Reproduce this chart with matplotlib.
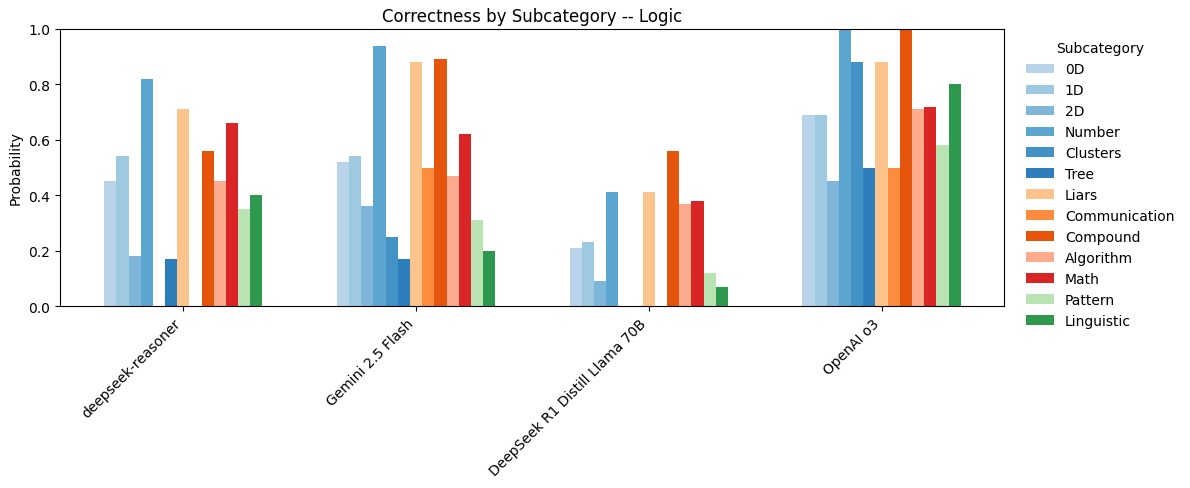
import numpy as np
import matplotlib
matplotlib.use("Agg")
import matplotlib.pyplot as plt

# Models (x groups)
models = ["deepseek-reasoner", "Gemini 2.5 Flash",
          "DeepSeek R1 Distill Llama 70B", "OpenAI o3"]

# Subcategories (legend order)
subcats = ["0D", "1D", "2D", "Number", "Clusters", "Tree", "Liars",
           "Communication", "Compound", "Algorithm", "Math", "Pattern",
           "Linguistic"]

# correctness per subcategory, one list per model
deepseek_reasoner = [0.45, 0.54, 0.18, 0.82, 0.00, 0.17, 0.71, 0.00, 0.56, 0.45, 0.66, 0.35, 0.40]
gemini_flash      = [0.52, 0.54, 0.36, 0.94, 0.25, 0.17, 0.88, 0.50, 0.89, 0.47, 0.62, 0.31, 0.20]
r1_distill_llama  = [0.21, 0.23, 0.09, 0.41, 0.00, 0.00, 0.41, 0.00, 0.56, 0.37, 0.38, 0.12, 0.07]
openai_o3         = [0.69, 0.69, 0.45, 1.00, 0.88, 0.50, 0.88, 0.50, 1.00, 0.71, 0.72, 0.58, 0.80]

values = np.array([deepseek_reasoner, gemini_flash, r1_distill_llama, openai_o3])

colors = ["#b9d4ea", "#9ecae1", "#7fb5d9", "#5ba5d1", "#4292c6", "#2d7ebb",
          "#fdc38d", "#fd8d3c", "#e5550b", "#fcab8f", "#da2526", "#b9e3b2",
          "#2f984f"]

fig = plt.figure(figsize=(11.9, 4.89), dpi=100)
ax = fig.add_axes([0.0504, 0.372, 0.7933, 0.5667])

x = np.arange(len(models))
n = len(subcats)
w = 0.68 / n

for i, name in enumerate(subcats):
    offs = (i - (n - 1) / 2) * w
    ax.bar(x + offs, values[:, i], width=w, color=colors[i], label=name)

ax.set_ylim(0, 1)
ax.set_xlim(-0.53, 3.526)
ax.set_xticks(x)
ax.set_xticklabels(models, rotation=45, ha="right")
ax.set_ylabel("Probability")
ax.set_title("Correctness by Subcategory -- Logic")

ax.legend(title="Subcategory", loc="upper left", bbox_to_anchor=(1.01, 1.0),
          frameon=False)

fig.savefig("out.png", dpi=100)
